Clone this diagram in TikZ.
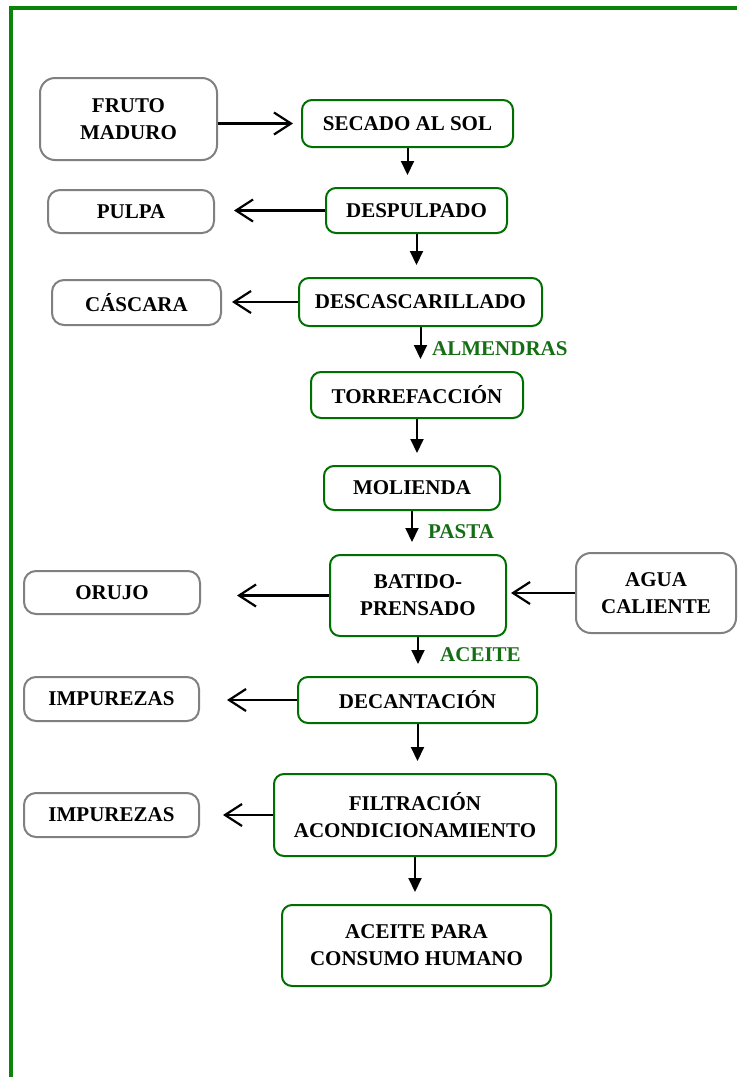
\documentclass[tikz,border=0pt]{standalone}
\usepackage{fontspec}
\setmainfont{Liberation Serif}
\usepackage{xcolor}
\usetikzlibrary{arrows.meta}
\definecolor{framegreen}{RGB}{12,132,12}
\definecolor{boxgreen}{RGB}{0,110,0}
\definecolor{labgreen}{RGB}{20,110,20}
\definecolor{boxgray}{RGB}{128,128,128}

\begin{document}
\begin{tikzpicture}[
  x=1pt, y=-1pt,
  font=\fontsize{21}{27}\selectfont\bfseries,
  pr/.style={draw=boxgreen, line width=2pt, rounded corners=10pt, align=center, inner sep=0pt},
  sd/.style={draw=boxgray, line width=2pt, rounded corners=12pt, align=center, inner sep=0pt},
  lab/.style={text=labgreen, anchor=west, inner sep=0pt},
  dn/.style={-{Triangle[length=14pt, width=13pt]}, line width=2pt, shorten >=12pt},
  sa/.style={-{Straight Barb[length=17pt, width=22pt]}, line width=2.2pt},
]
\useasboundingbox (0,0) rectangle (737,1077);
\draw[framegreen, line width=4pt] (11,1077) -- (11,8) -- (737,8);

\node[sd, minimum width=177pt, minimum height=82pt, rounded corners=15pt] (a) at (128.5,119) {FRUTO\\MADURO};
\node[pr, minimum width=211pt, minimum height=47pt] (b) at (407.5,123.5) {SECADO AL SOL};
\node[sd, minimum width=166pt, minimum height=43pt] (c) at (131,211.5) {PULPA};
\node[pr, minimum width=181pt, minimum height=45pt] (d) at (416.5,210.5) {DESPULPADO};
\node[sd, minimum width=169pt, minimum height=45pt] (e) at (136.5,302.5) {CÁSCARA};
\node[pr, minimum width=243pt, minimum height=48pt] (f) at (420.5,302) {DESCASCARILLADO};
\node[pr, minimum width=212pt, minimum height=46pt] (g) at (417,395) {TORREFACCIÓN};
\node[pr, minimum width=176pt, minimum height=44pt] (h) at (412,488) {MOLIENDA};
\node[sd, minimum width=176pt, minimum height=43pt] (i) at (112,592.5) {ORUJO};
\node[pr, minimum width=176pt, minimum height=81pt] (j) at (418,595.5) {BATIDO-\\PRENSADO};
\node[sd, minimum width=160pt, minimum height=80pt, rounded corners=15pt] (k) at (656,593) {AGUA\\CALIENTE};
\node[sd, minimum width=175pt, minimum height=44pt] (l) at (111.5,699) {IMPUREZAS};
\node[pr, minimum width=239pt, minimum height=46pt] (m) at (417.5,700) {DECANTACIÓN};
\node[sd, minimum width=175pt, minimum height=44pt] (n) at (111.5,815) {IMPUREZAS};
\node[pr, minimum width=282pt, minimum height=82pt] (o) at (415,815) {FILTRACIÓN\\ACONDICIONAMIENTO};
\node[pr, minimum width=269pt, minimum height=81pt] (p) at (416.5,945.5) {ACEITE PARA\\CONSUMO HUMANO};

\node[lab] (la) at (432,349) {ALMENDRAS};
\node[lab] (lb) at (428,532) {PASTA};
\node[lab] (lc) at (440,655) {ACEITE};

\draw[sa, shorten >=8pt] (a.east |- b) -- (b);
\draw[sa, shorten >=19pt] (d) -- (d -| c.east);
\draw[sa, shorten >=10pt] (f) -- (f -| e.east);
\draw[sa, shorten >=36pt] (j) -- (j -| i.east);
\draw[sa, shorten >=4pt] (k) -- (k -| j.east);
\draw[sa, shorten >=27pt] (m) -- (m -| l.east);
\draw[sa, shorten >=23pt] (o) -- (o -| n.east);
\draw[dn] (b) -- (b |- d.north); \draw[dn] (d) -- (d |- f.north); \draw[dn] (f) -- (f |- g.north);
\draw[dn] (g) -- (g |- h.north); \draw[dn] (h) -- (h |- j.north); \draw[dn] (j) -- (j |- m.north);
\draw[dn] (m) -- (m |- o.north); \draw[dn] (o) -- (o |- p.north);
\end{tikzpicture}
\end{document}
